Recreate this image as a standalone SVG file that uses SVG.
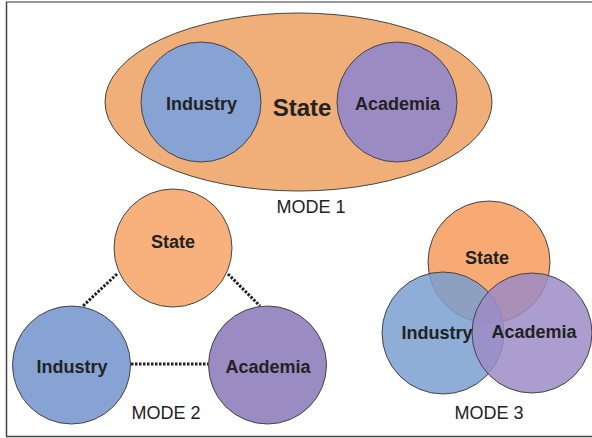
<svg xmlns="http://www.w3.org/2000/svg" width="592" height="438" viewBox="0 0 592 438">
<style>
.lbl{font-family:"Liberation Sans",Arial,sans-serif;font-weight:bold;fill:#222;text-anchor:middle}
.mode{font-family:"Liberation Sans",Arial,sans-serif;font-size:18px;fill:#222;text-anchor:middle}
.node{stroke:#444;stroke-width:1}
.st{fill:#F8B17D}
.ind{fill:#87A3D3}
.aca{fill:#9B8BC3}
.dot{stroke:#222;stroke-width:3;stroke-dasharray:2.5 1.5;fill:none}
</style>
<rect width="592" height="438" fill="#fff"/>
<g id="frame">
<line x1="6" y1="2" x2="592" y2="2" stroke="#999" stroke-width="2"/>
<line x1="6.5" y1="2" x2="6.5" y2="437" stroke="#444" stroke-width="1.5"/>
<line x1="6" y1="436.5" x2="592" y2="436.5" stroke="#444" stroke-width="1.5"/>
</g>
<g id="mode1">
<g id="m1-state"><ellipse class="node" cx="298.5" cy="102" rx="193.5" ry="89" fill="#F0AE78"/>
<text class="lbl" x="302" y="116" font-size="24">State</text></g>
<g id="m1-industry"><circle class="node ind" cx="201" cy="102" r="60"/>
<text class="lbl" x="201.5" y="110" font-size="18">Industry</text></g>
<g id="m1-academia"><circle class="node aca" cx="397" cy="102" r="60"/>
<text class="lbl" x="397.5" y="110" font-size="18">Academia</text></g>
<text class="mode" x="311" y="213">MODE 1</text>
</g>
<g id="connectors">
<line class="dot" x1="117" y1="274" x2="83" y2="306"/>
<line class="dot" x1="228" y1="274" x2="260" y2="306"/>
<line class="dot" x1="131" y1="364" x2="208" y2="364"/>
</g>
<g id="m2-state"><circle class="node st" cx="173" cy="248" r="59"/>
<text class="lbl" x="173" y="248" font-size="18">State</text></g>
<g id="m2-industry"><circle class="node ind" cx="71.5" cy="365" r="59"/>
<text class="lbl" x="72" y="373" font-size="18">Industry</text></g>
<g id="m2-academia"><circle class="node aca" cx="267.5" cy="365" r="59"/>
<text class="lbl" x="268" y="373" font-size="18">Academia</text></g>
<text class="mode" x="166" y="419">MODE 2</text>
<g id="mode3">
<g id="m3-state"><circle class="node" cx="489" cy="262" r="61" fill="#F7A56C" fill-opacity="0.95"/></g>
<g id="m3-industry"><circle class="node" cx="443" cy="333" r="61" fill="#7A9FD0" fill-opacity="0.85"/></g>
<g id="m3-academia"><circle class="node" cx="532" cy="333" r="60" fill="#9C8CC6" fill-opacity="0.85"/></g>
<text class="lbl" x="487" y="264" font-size="18">State</text>
<text class="lbl" x="437" y="339" font-size="18">Industry</text>
<text class="lbl" x="534" y="338" font-size="18">Academia</text>
<text class="mode" x="489" y="419">MODE 3</text>
</g>
</svg>
